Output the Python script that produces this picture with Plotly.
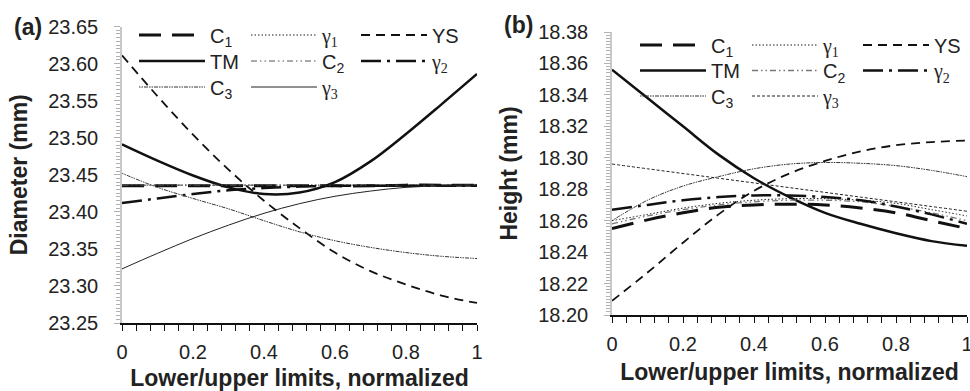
import plotly.graph_objects as go

# ---------------- data ----------------
x_norm = [0, 0.1, 0.2, 0.3, 0.4, 0.5, 0.6, 0.7, 0.8, 0.9, 1.0]

# Panel (a): Diameter (mm)
dia_C1 = [23.435, 23.435, 23.435, 23.435, 23.435, 23.435, 23.435, 23.435, 23.436, 23.436, 23.436]
dia_g1 = [23.436, 23.436, 23.436, 23.436, 23.436, 23.436, 23.436, 23.436, 23.436, 23.436, 23.437]
dia_YS = [23.611, 23.556, 23.504, 23.457, 23.415, 23.378, 23.345, 23.320, 23.302, 23.287, 23.277]
dia_TM = [23.491, 23.469, 23.449, 23.433, 23.424, 23.426, 23.440, 23.468, 23.505, 23.545, 23.586]
dia_C2 = [23.436, 23.436, 23.436, 23.436, 23.436, 23.436, 23.436, 23.436, 23.436, 23.436, 23.436]
dia_g2 = [23.412, 23.418, 23.424, 23.429, 23.432, 23.434, 23.435, 23.435, 23.435, 23.435, 23.435]
dia_C3 = [23.452, 23.433, 23.418, 23.404, 23.388, 23.373, 23.361, 23.352, 23.345, 23.340, 23.337]
dia_g3 = [23.323, 23.344, 23.364, 23.382, 23.398, 23.411, 23.421, 23.428, 23.433, 23.435, 23.436]

# Panel (b): Height (mm)
hei_C1 = [18.255, 18.2605, 18.265, 18.2685, 18.270, 18.2705, 18.270, 18.268, 18.265, 18.260, 18.255]
hei_g1 = [18.260, 18.264, 18.268, 18.271, 18.273, 18.274, 18.274, 18.273, 18.271, 18.267, 18.263]
hei_YS = [18.209, 18.227, 18.246, 18.264, 18.279, 18.290, 18.298, 18.304, 18.308, 18.310, 18.311]
hei_TM = [18.356, 18.338, 18.320, 18.302, 18.287, 18.275, 18.265, 18.258, 18.252, 18.247, 18.244]
hei_C2 = [18.258, 18.263, 18.267, 18.270, 18.272, 18.273, 18.273, 18.272, 18.269, 18.265, 18.260]
hei_g2 = [18.267, 18.270, 18.273, 18.275, 18.276, 18.276, 18.275, 18.273, 18.269, 18.264, 18.258]
hei_C3 = [18.260, 18.273, 18.282, 18.288, 18.293, 18.296, 18.297, 18.2965, 18.295, 18.292, 18.288]
hei_g3 = [18.296, 18.293, 18.290, 18.287, 18.284, 18.281, 18.278, 18.275, 18.272, 18.269, 18.266]

x_ticks = [0, 0.2, 0.4, 0.6, 0.8, 1]
x_ticklabels = ["0", "0.2", "0.4", "0.6", "0.8", "1"]

SERIF = "Liberation Serif"
def gname(i):
    return f"<span style='font-family:{SERIF}'>γ<sub>{i}</sub></span>"

labels = {
    "C1": "C<sub>1</sub>", "g1": gname(1), "YS": "YS",
    "TM": "TM", "C2": "C<sub>2</sub>", "g2": gname(2),
    "C3": "C<sub>3</sub>", "g3": gname(3),
}

styles_a = {
    "C1": dict(color="#111", width=3, dash="22px,11px"),
    "g1": dict(color="#222", width=1, dash="1.5px,2px"),
    "YS": dict(color="#111", width=1.8, dash="9px,6px"),
    "TM": dict(color="#111", width=2.5, dash="solid"),
    "C2": dict(color="#555", width=1, dash="6px,3px,1.5px,3px,1.5px,3px"),
    "g2": dict(color="#111", width=2.5, dash="20px,6px,3px,6px"),
    "C3": dict(color="#333", width=1, dash="1.5px,1px,1.5px,1px,4px,1px"),
    "g3": dict(color="#222", width=1, dash="solid"),
}
styles_b = dict(styles_a)
styles_b["g3"] = dict(color="#222", width=1, dash="3px,2px")
styles_b["C2"] = dict(color="#777", width=1.3, dash="6px,3px,1.5px,3px,1.5px,3px")

data_a = {"C1": dia_C1, "g1": dia_g1, "YS": dia_YS, "TM": dia_TM,
          "C2": dia_C2, "g2": dia_g2, "C3": dia_C3, "g3": dia_g3}
data_b = {"C1": hei_C1, "g1": hei_g1, "YS": hei_YS, "TM": hei_TM,
          "C2": hei_C2, "g2": hei_g2, "C3": hei_C3, "g3": hei_g3}

# legend grid position (column, row) as in the reference
grid = {"C1": (0, 0), "g1": (1, 0), "YS": (2, 0),
        "TM": (0, 1), "C2": (1, 1), "g2": (2, 1),
        "C3": (0, 2), "g3": (1, 2)}
order = ["C1", "g1", "YS", "TM", "C2", "g2", "C3", "g3"]

W, H = 970, 391
def px_x(p): return p / W
def px_y(p): return 1 - p / H

# legend line start x (px) per column and row centre y (px) per row
leg_cols = {0: [146, 258, 368], 1: [647, 759, 870]}
leg_rows = {0: [35, 61, 87], 1: [45, 70.5, 96]}

legfont = dict(family="Liberation Sans, Arial", size=20, color="#222")

fig = go.Figure()
legends = {}
n = 0
for panel, (data, styles, xa, ya) in enumerate([
        (data_a, styles_a, "x", "y"), (data_b, styles_b, "x2", "y2")]):
    for key in order:
        n += 1
        lname = "legend" if n == 1 else f"legend{n}"
        c, r = grid[key]
        legends[lname] = dict(
            x=px_x(leg_cols[panel][c] - 12), y=px_y(leg_rows[panel][r]),
            xanchor="left", yanchor="middle", orientation="v",
            bgcolor="rgba(0,0,0,0)", font=legfont, itemwidth=66)
        fig.add_trace(go.Scatter(
            x=x_norm, y=data[key], mode="lines", name=labels[key],
            line=dict(shape="spline", smoothing=1.0, **styles[key]),
            xaxis=xa, yaxis=ya, legend=lname,
        ))

tickfont = dict(family="Liberation Sans, Arial", size=20, color="#222")
titlefont = dict(family="Liberation Sans, Arial", size=23, color="#222")

def xaxis_cfg(domain, anchor):
    return dict(domain=domain, anchor=anchor, range=[0, 1], tickvals=x_ticks, ticktext=x_ticklabels,
                automargin=False, ticklabeloverflow="allow",
                showline=True, linecolor="#111", linewidth=1.5,
                ticks="outside", ticklen=6, tickcolor="#111", tickwidth=1.2,
                minor=dict(dtick=0.04, ticks="outside", ticklen=6, tickcolor="#111", tickwidth=1.2),
                showgrid=False, zeroline=False, tickfont=tickfont,
                ticklabelstandoff=4,
                title=dict(text="<b>Lower/upper limits, normalized</b>", font=titlefont, standoff=10))

def yaxis_cfg(domain, anchor, rng, dtick, mdtick, fmt, title):
    return dict(domain=domain, anchor=anchor, range=rng, dtick=dtick, tick0=rng[0], tickformat=fmt,
                automargin=False, ticklabeloverflow="allow",
                showline=True, linecolor="#c8c8c8", linewidth=1.5,
                ticks="outside", ticklen=6, tickcolor="#b0b0b0", tickwidth=1,
                minor=dict(dtick=mdtick, ticks="outside", ticklen=4, tickcolor="#b0b0b0", tickwidth=1),
                showgrid=False, zeroline=False, tickfont=tickfont,
                ticklabelstandoff=12,
                title=dict(text=f"<b>{title}</b>", font=titlefont, standoff=14))

layout = dict(
    width=W, height=H, margin=dict(l=0, r=0, t=0, b=0, autoexpand=False),
    paper_bgcolor="white", plot_bgcolor="white",
    showlegend=True,
    xaxis=xaxis_cfg([px_x(122), px_x(477)], "y"),
    yaxis=yaxis_cfg([px_y(323), px_y(26.5)], "x", [23.25, 23.65], 0.05, 0.005, ".2f", "Diameter (mm)"),
    xaxis2=xaxis_cfg([px_x(612), px_x(967)], "y2"),
    yaxis2=yaxis_cfg([px_y(315), px_y(32)], "x2", [18.20, 18.38], 0.02, 0.002, ".2f", "Height (mm)"),
    annotations=[
        dict(text="<b>(a)</b>", x=px_x(12), y=px_y(27), xref="paper", yref="paper",
             xanchor="left", yanchor="middle", showarrow=False,
             font=dict(family="Liberation Sans, Arial", size=23, color="#222")),
        dict(text="<b>(b)</b>", x=px_x(502), y=px_y(25), xref="paper", yref="paper",
             xanchor="left", yanchor="middle", showarrow=False,
             font=dict(family="Liberation Sans, Arial", size=23, color="#222")),
    ],
)
layout.update(legends)
fig.update_layout(**layout)
fig.write_html("out.html")
